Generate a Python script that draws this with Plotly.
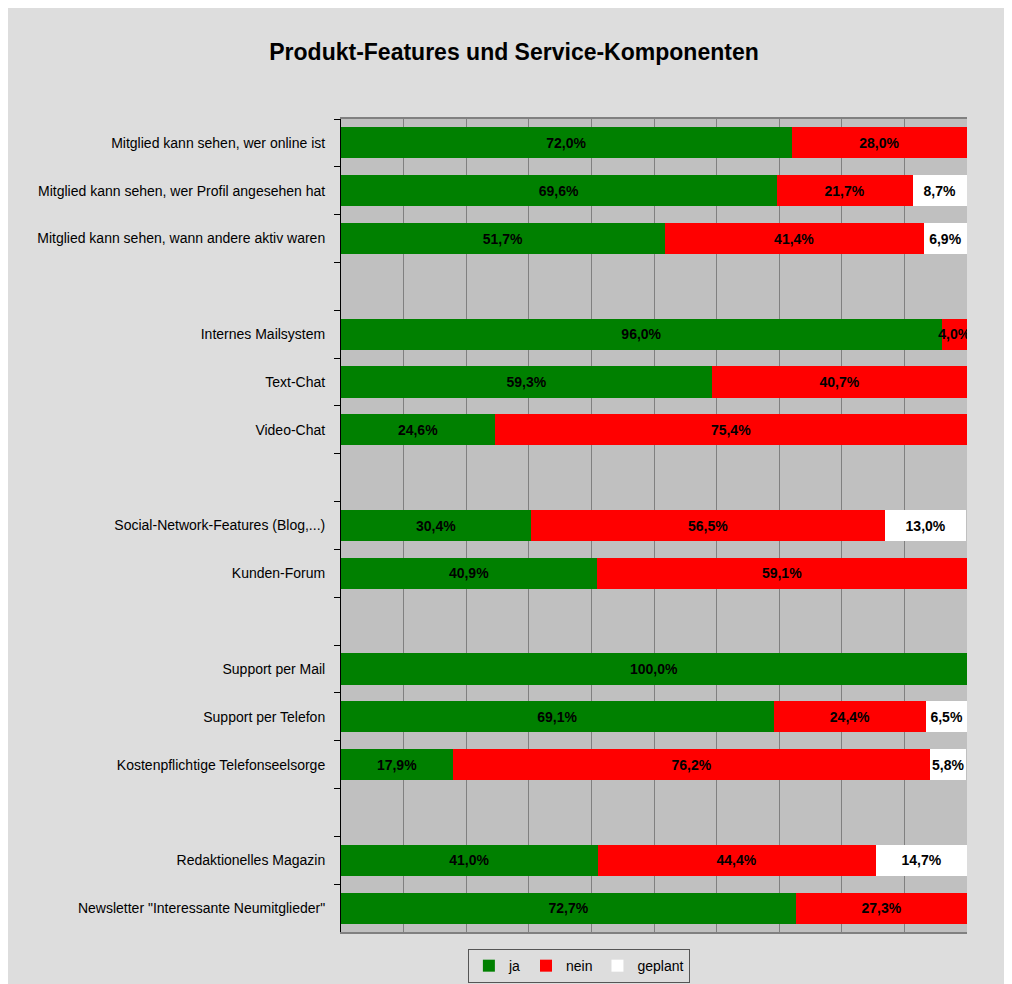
import plotly.graph_objects as go

categories = [
    "Mitglied kann sehen, wer online ist",
    "Mitglied kann sehen, wer Profil angesehen hat",
    "Mitglied kann sehen, wann andere aktiv waren",
    "",
    "Internes Mailsystem",
    "Text-Chat",
    "Video-Chat",
    "",
    "Social-Network-Features (Blog,...)",
    "Kunden-Forum",
    "",
    "Support per Mail",
    "Support per Telefon",
    "Kostenpflichtige Telefonseelsorge",
    "",
    "Redaktionelles Magazin",
    'Newsletter "Interessante Neumitglieder"',
]
ja = [72.0, 69.6, 51.7, 0, 96.0, 59.3, 24.6, 0, 30.4, 40.9, 0, 100.0, 69.1, 17.9, 0, 41.0, 72.7]
nein = [28.0, 21.7, 41.4, 0, 4.0, 40.7, 75.4, 0, 56.5, 59.1, 0, 0, 24.4, 76.2, 0, 44.4, 27.3]
geplant = [0, 8.7, 6.9, 0, 0, 0, 0, 0, 13.0, 0, 0, 0, 6.5, 5.8, 0, 14.7, 0]

series = [("ja", ja, "#008000"), ("nein", nein, "#ff0000"), ("geplant", geplant, "#ffffff")]

rows = list(range(len(categories)))


def fmt(v):
    return ("%.1f%%" % v).replace(".", ",") if v > 0 else ""


W, H = 1012, 984

fig = go.Figure()
for name, vals, col in series:
    fig.add_trace(go.Bar(
        name=name, x=vals, y=rows, orientation="h",
        marker=dict(color=col, line=dict(width=0)),
        text=[fmt(v) for v in vals], textposition="inside", textangle=0,
        insidetextanchor="middle", constraintext="none",
        textfont=dict(family="Liberation Sans", size=14, color="black", weight="bold"),
        width=0.65,
    ))

fig.update_layout(
    width=W, height=H,
    barmode="stack",
    paper_bgcolor="#dddddd", plot_bgcolor="#c0c0c0",
    margin=dict(l=333, r=53, t=111, b=60, autoexpand=False),
    title=dict(text="<b>Produkt-Features und Service-Komponenten</b>", x=0.5, xanchor="center",
               xref="container",
               y=1 - 44 / H, yanchor="middle",
               font=dict(family="Liberation Sans", size=23, color="black")),
    uniformtext=dict(minsize=14, mode="show"),
    showlegend=True,
    legend=dict(orientation="h", x=0.38, xanchor="center", y=-0.021, yanchor="top",
                bgcolor="#dddddd", bordercolor="#555555", borderwidth=1,
                font=dict(family="Liberation Sans", size=14, color="black"),
                traceorder="normal", itemwidth=30),
    font=dict(family="Liberation Sans", size=14, color="black"),
)
fig.update_xaxes(range=[0, 100], dtick=10, showgrid=True, gridcolor="#808080", gridwidth=1,
                 showticklabels=False, ticks="", zeroline=False,
                 showline=True, mirror=True, linecolor="#808080", linewidth=2)
fig.update_yaxes(range=[len(categories) - 0.5, -0.5], tickmode="array", tickvals=rows,
                 ticktext=categories, ticks="", showgrid=False, zeroline=False,
                 showline=True, linecolor="black", linewidth=1, ticklabelstandoff=12,
                 minor=dict(tickmode="array", tickvals=[r + 0.5 for r in rows[:-1]] + [-0.5],
                            ticks="outside", ticklen=6, tickcolor="black", showgrid=False))

fig.write_html("out.html", post_script="document.body.style.overflow='hidden';")
